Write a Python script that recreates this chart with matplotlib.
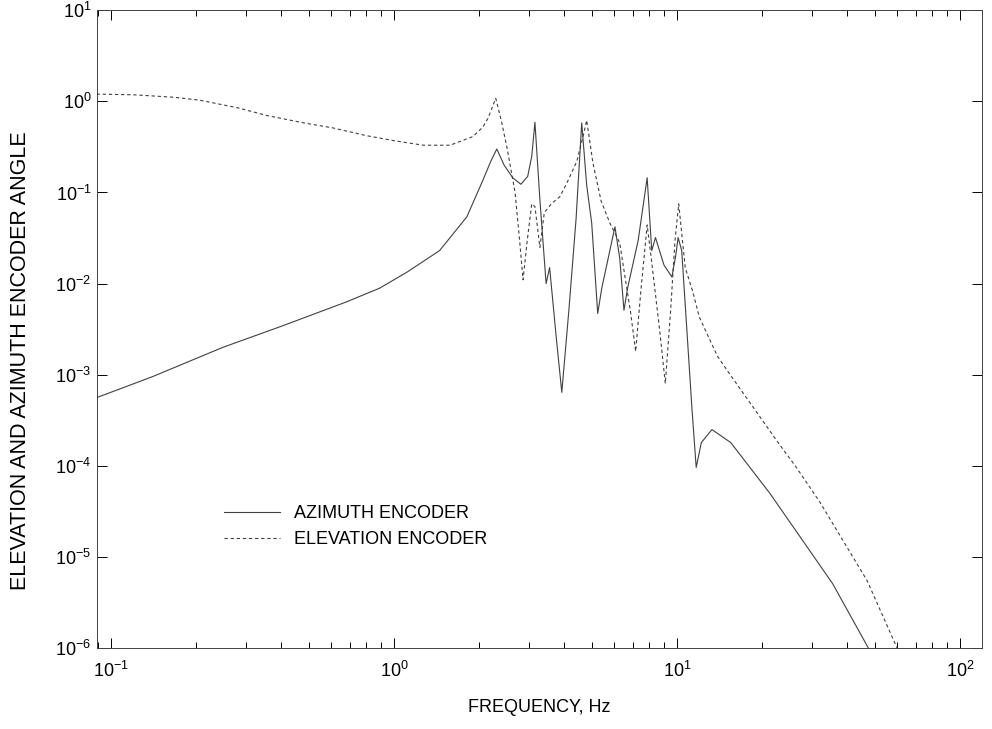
import matplotlib
matplotlib.use('Agg')
import matplotlib.pyplot as plt
from matplotlib.ticker import LogLocator, NullLocator, NullFormatter

# values (frequency in Hz, encoder angle)
az_freq = [0.089, 0.14, 0.249, 0.4, 0.68, 0.89, 1.11, 1.45, 1.81, 2.06, 2.2, 2.31,
           2.45, 2.63, 2.81, 2.97, 3.07, 3.15, 3.28, 3.45, 3.55, 3.75, 3.92, 4.15,
           4.4, 4.61, 4.8, 5.0, 5.25, 5.43, 6.04, 6.28, 6.5, 6.7, 7.3, 7.85, 8.15,
           8.4, 9.0, 9.6, 9.9, 10.1, 10.4, 11.3, 11.7, 12.2, 13.3, 15.5, 21.3, 35.5,
           47.5, 55.0]
az_angle = [5.6e-4, 9.5e-4, 0.002, 0.0034, 0.0063, 0.0089, 0.0133, 0.023, 0.054,
            0.135, 0.22, 0.30, 0.2, 0.145, 0.123, 0.15, 0.25, 0.59, 0.083, 0.01,
            0.015, 0.0025, 6.4e-4, 0.005, 0.05, 0.58, 0.12, 0.046, 0.0047, 0.009,
            0.042, 0.019, 0.0051, 0.009, 0.03, 0.145, 0.023, 0.032, 0.016, 0.0118,
            0.02, 0.032, 0.023, 4.3e-4, 9.6e-5, 1.8e-4, 2.5e-4, 1.8e-4, 5e-5,
            5.1e-6, 1e-6, 4e-7]

el_freq = [0.089, 0.12, 0.166, 0.206, 0.28, 0.355, 0.48, 0.61, 0.8, 1.0, 1.27, 1.58,
           1.9, 2.06, 2.15, 2.29, 2.4, 2.51, 2.68, 2.78, 2.86, 2.96, 3.07, 3.15,
           3.28, 3.4, 3.6, 3.86, 4.1, 4.43, 4.65, 4.8, 5.05, 5.4, 5.8, 6.28, 6.55,
           6.85, 7.15, 7.45, 7.85, 8.1, 8.7, 9.1, 9.5, 9.85, 10.15, 10.7, 11.4,
           12.0, 13.9, 15.1, 22.5, 26.5, 32.0, 47.0, 60.0, 70.0]
el_angle = [1.2, 1.18, 1.11, 1.03, 0.85, 0.70, 0.58, 0.51, 0.42, 0.37, 0.33, 0.33,
            0.41, 0.52, 0.65, 1.08, 0.6, 0.31, 0.1, 0.03, 0.011, 0.03, 0.075, 0.07,
            0.025, 0.06, 0.075, 0.09, 0.13, 0.22, 0.4, 0.62, 0.21, 0.08, 0.046,
            0.028, 0.012, 0.005, 0.0018, 0.008, 0.044, 0.02, 0.003, 0.0008, 0.005,
            0.03, 0.075, 0.015, 0.008, 0.0043, 0.0016, 0.0011, 1.9e-4, 9.5e-5,
            4e-5, 5.5e-6, 1e-6, 3e-7]

x_ticks = [0.1, 1, 10, 100]
y_ticks = [1e-6, 1e-5, 1e-4, 1e-3, 1e-2, 1e-1, 1e0, 1e1]
x_limits = (0.0893, 119.6)
y_limits = (1e-6, 1e1)


def main():
    plt.rcParams['font.family'] = ['Liberation Sans', 'DejaVu Sans']
    plt.rcParams['mathtext.fontset'] = 'custom'
    plt.rcParams['mathtext.rm'] = 'Liberation Sans'
    plt.rcParams['mathtext.it'] = 'Liberation Sans'

    fig = plt.figure(figsize=(9.92, 7.29), dpi=100)
    ax = fig.add_axes([0.0978, 0.111, 0.892, 0.875])

    ax.loglog(az_freq, az_angle, '-', color='0.25', lw=0.8, label='AZIMUTH ENCODER')
    ax.loglog(el_freq, el_angle, '--', color='0.25', lw=0.8, dashes=(3, 2.5),
              label='ELEVATION ENCODER')

    ax.set_xticks(x_ticks)
    ax.set_yticks(y_ticks)
    ax.xaxis.set_minor_locator(LogLocator(base=10, subs=range(2, 10), numticks=20))
    ax.xaxis.set_minor_formatter(NullFormatter())
    ax.yaxis.set_minor_locator(NullLocator())
    ax.set_xlim(*x_limits)
    ax.set_ylim(*y_limits)

    ax.tick_params(which='both', direction='in', top=True, right=True,
                   labelsize=13, width=0.7)
    ax.tick_params(which='major', length=7)
    ax.tick_params(axis='x', which='major', pad=9)
    ax.tick_params(axis='y', which='major', pad=4)
    ax.tick_params(which='minor', length=4)
    for spine in ax.spines.values():
        spine.set_linewidth(0.7)
        spine.set_color('0.25')

    ax.set_xlabel('FREQUENCY, Hz', fontsize=13, labelpad=13)
    ax.set_ylabel('ELEVATION AND AZIMUTH ENCODER ANGLE', fontsize=15.5)
    ax.yaxis.set_label_coords(-0.075, 0.451)

    ax.legend(loc='upper left', bbox_to_anchor=(0.125, 0.25), frameon=False,
              fontsize=13, handlelength=3.1, handletextpad=0.8, labelspacing=0.5)

    fig.savefig('out.png', dpi=100)


if __name__ == "__main__":
    main()
